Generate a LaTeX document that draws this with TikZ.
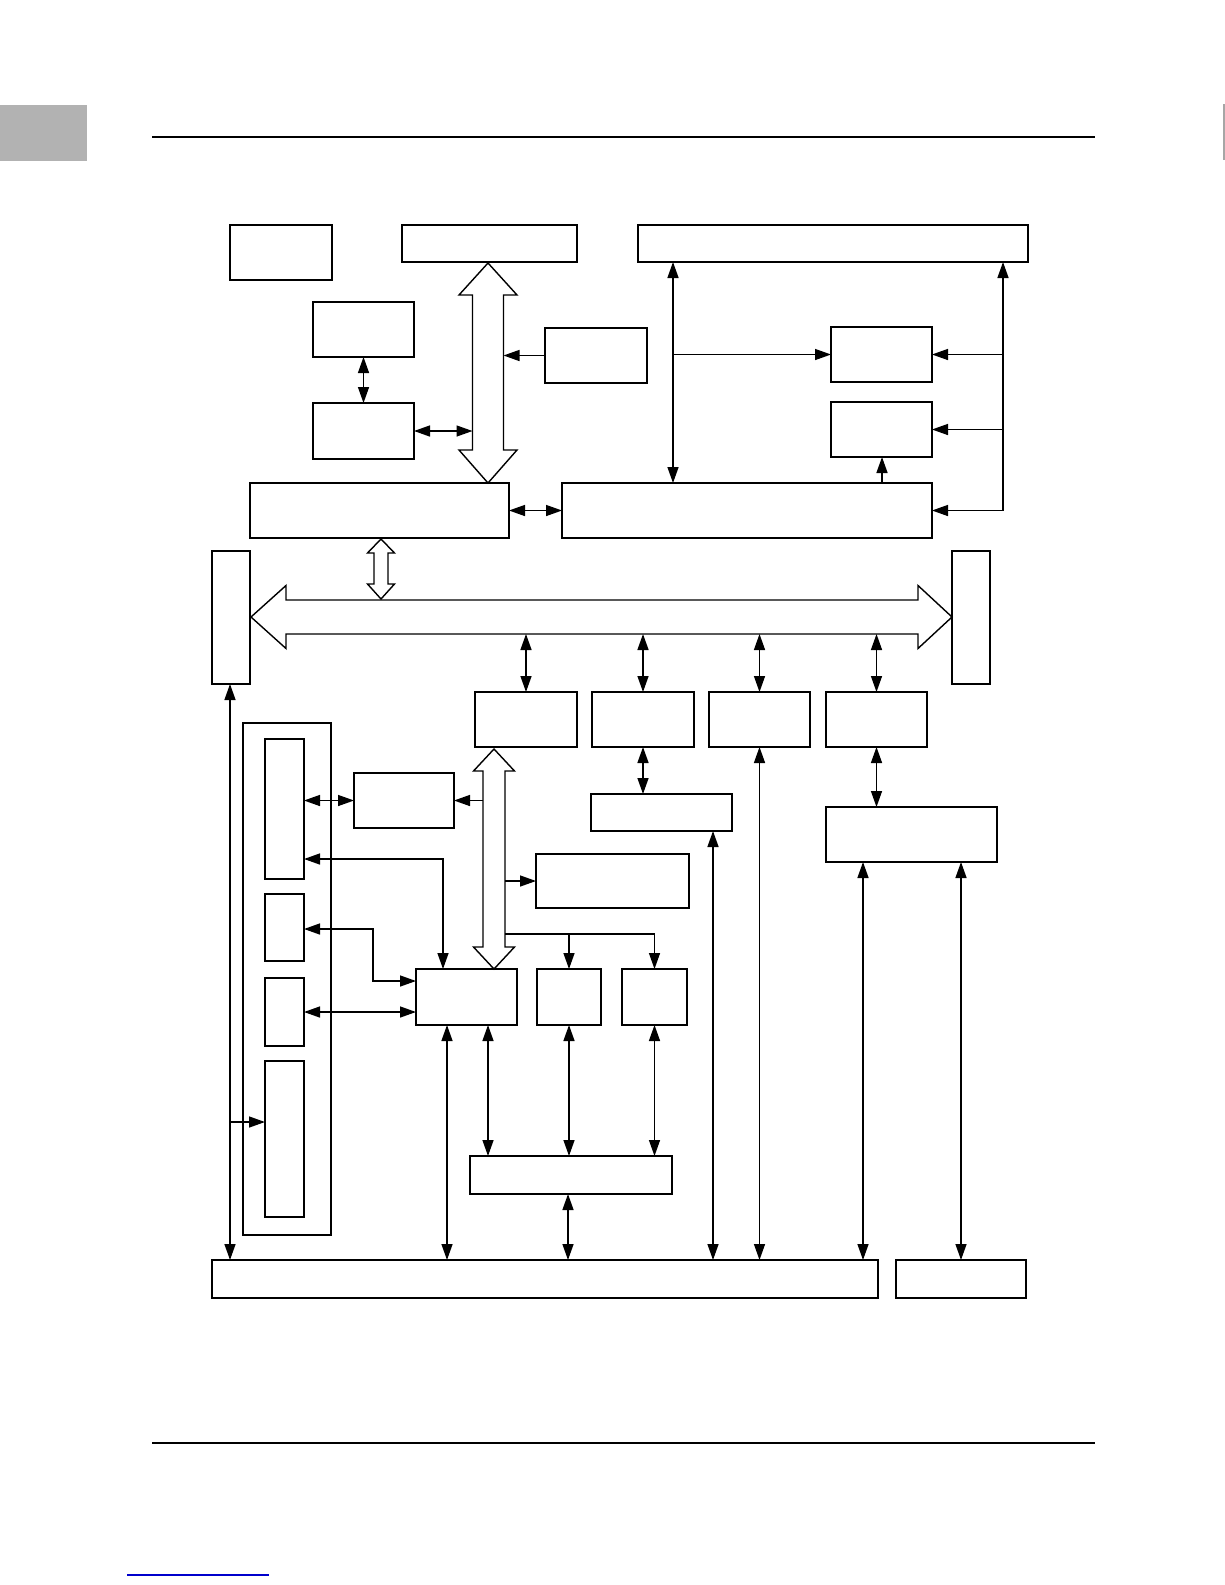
\documentclass[tikz,border=0pt]{standalone}
\usetikzlibrary{arrows.meta}
\definecolor{lnkblue}{RGB}{0,0,204}
\tikzset{
  box/.style={draw, line width=0.9pt, inner sep=0pt, outer sep=0pt},
  conn/.style={line width=0.7pt},
  dar/.style={conn, {Triangle[length=8pt,width=5.5pt]}-{Triangle[length=8pt,width=5.5pt]}},
  sar/.style={conn, -{Triangle[length=8pt,width=5.5pt]}},
  hollow/.style={draw, line width=0.7pt, fill=white, line join=miter}
}
\newcommand\blk[5]{\node[box,minimum width={(#4-#2)*0.5pt},minimum height={(#5-#3)*0.5pt}] (#1) at ({(#2+#4)/2},{(#3+#5)/2}) {};}
% vertical double hollow arrow: cx, tip top, base top, base bottom, tip bottom, head half width, shaft half width
\newcommand\vdarrow[7]{\draw[hollow] (#1,#2) -- ({#1+#6},#3) -- ({#1+#7},#3) -- ({#1+#7},#4) -- ({#1+#6},#4) -- (#1,#5) -- ({#1-#6},#4) -- ({#1-#7},#4) -- ({#1-#7},#3) -- ({#1-#6},#3) -- cycle;}
\begin{document}
\begin{tikzpicture}[x=0.5pt,y=-0.5pt]
\useasboundingbox (0,0) rectangle (1225,1585);
% page decorations
\fill[black!30] (0,105) rectangle (87,161);
\draw[line width=1pt] (152,137) -- (1095,137);
\draw[line width=1pt] (152,1443) -- (1095,1443);
\draw[black!35, line width=0.8pt] (1224,104) -- (1224,160);
\draw[lnkblue, line width=0.8pt] (127,1575) -- (269,1575);
% boxes
\blk{A}{230}{225}{332}{280}
\blk{B}{402}{225}{577}{262}
\blk{H}{638}{225}{1028}{262}
\blk{C}{313}{302}{414}{357}
\blk{D}{313}{403}{414}{459}
\blk{E}{545}{328}{647}{383}
\blk{I}{831}{327}{932}{382}
\blk{J}{831}{402}{932}{457}
\blk{F}{250}{483}{509}{538}
\blk{G}{562}{483}{932}{538}
\blk{K}{212}{551}{250}{684}
\blk{M}{952}{551}{990}{684}
\blk{L1}{475}{692}{577}{747}
\blk{L2}{592}{692}{694}{747}
\blk{L3}{709}{692}{810}{747}
\blk{L4}{826}{692}{927}{747}
\blk{Cont}{243}{723}{331}{1235}
\blk{N1}{265}{739}{304}{879}
\blk{N2}{265}{894}{304}{961}
\blk{N3}{265}{978}{304}{1046}
\blk{N4}{265}{1061}{304}{1217}
\blk{O}{354}{773}{454}{828}
\blk{S}{591}{794}{732}{831}
\blk{T}{826}{807}{997}{862}
\blk{Q}{536}{854}{689}{908}
\blk{P}{416}{969}{517}{1025}
\blk{R1}{537}{969}{601}{1025}
\blk{R2}{622}{969}{687}{1025}
\blk{V}{470}{1156}{672}{1194}
\blk{U}{212}{1260}{878}{1298}
\blk{W}{896}{1260}{1026}{1298}
% hollow bus arrows
\vdarrow{488}{263}{295}{450}{483}{29}{15.5}
\vdarrow{381}{539}{553}{584}{599}{13.5}{7}
\vdarrow{494}{749}{771}{947}{969}{20.5}{11}
\draw[hollow] (251,617) -- (286,585.5) -- (286,600) -- (918,600) -- (918,585.5) -- (952,617) -- (918,648.5) -- (918,634) -- (286,634) -- (286,648.5) -- cycle;
% helper coordinates
\coordinate (b1L) at (472.5,0);
\coordinate (b1R) at (503.5,0);
\coordinate (b2L) at (483,0);
\coordinate (b2R) at (505,0);
\coordinate (busB) at (0,634);
\coordinate (xa) at (673,0);
\coordinate (xr) at (1003,0);
\coordinate (xj) at (882,0);
\coordinate (xl) at (230,0);
\coordinate (yn4) at (0,1122);
\coordinate (yb) at (0,934);
% upper connectors
\draw[dar] (C.south) -- (D.north);
\draw[dar] (D.east) -- (D.east -| b1L);
\draw[sar] (E.west) -- (E.west -| b1R);
\draw[dar] (F.east) -- (G.west);
\draw[dar] (H.south -| xa) -- (G.north -| xa);
\draw[sar] (xa |- I.west) -- (I.west);
\draw[dar] (H.south -| xr) -- (xr |- G.east) -- (G.east);
\draw[sar] (xr |- I.east) -- (I.east);
\draw[sar] (xr |- J.east) -- (J.east);
\draw[sar] (G.north -| xj) -- (J.south -| xj);
% bus to lower boxes
\draw[dar] (L1.north |- busB) -- (L1.north);
\draw[dar] (L2.north |- busB) -- (L2.north);
\draw[dar] (L3.north |- busB) -- (L3.north);
\draw[dar] (L4.north |- busB) -- (L4.north);
% left side
\draw[dar] (K.south -| xl) -- (U.north -| xl);
\draw[sar] (xl |- yn4) -- (N4.west |- yn4);
\draw[dar] (N1.east |- O.west) -- (O.west);
\draw[sar] (O.east -| b2L) -- (O.east);
\draw[dar] (N1.east |- 0,859) -- (443,859) -- (P.north -| 443,0);
\draw[dar] (N2.east |- 0,929) -- (373,929) -- (373,981) -- (P.west |- 0,981);
\draw[dar] (N3.east) -- (N3.east -| P.west);
% middle
\draw[sar] (Q.west -| b2R) -- (Q.west);
\draw[conn] (b2R |- yb) -- (R2.north |- yb);
\draw[sar] (R1.north |- yb) -- (R1.north);
\draw[sar] (R2.north |- yb) -- (R2.north);
\draw[dar] (L2.south) -- (L2.south |- S.north);
\draw[dar] (S.south -| 713,0) -- (U.north -| 713,0);
\draw[dar] (L3.south) -- (L3.south |- U.north);
\draw[dar] (L4.south) -- (L4.south |- T.north);
\draw[dar] (T.south -| 863,0) -- (U.north -| 863,0);
\draw[dar] (T.south -| W.north) -- (W.north);
% bottom
\draw[dar] (P.south -| 447,0) -- (U.north -| 447,0);
\draw[dar] (P.south -| 488,0) -- (V.north -| 488,0);
\draw[dar] (R1.south) -- (R1.south |- V.north);
\draw[dar] (R2.south) -- (R2.south |- V.north);
\draw[dar] (V.south -| 568,0) -- (U.north -| 568,0);
\end{tikzpicture}
\end{document}
